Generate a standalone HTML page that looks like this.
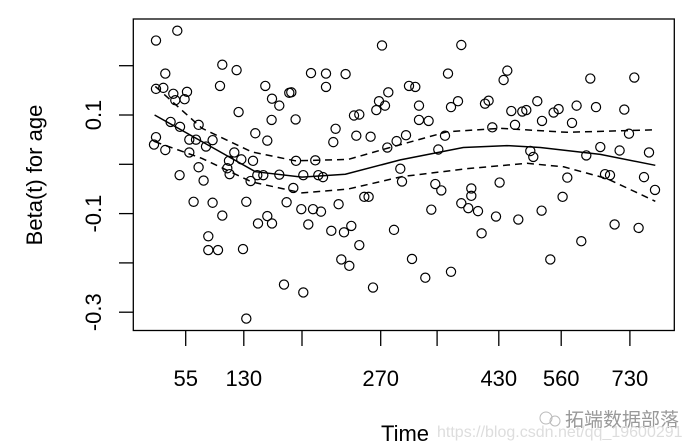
<!DOCTYPE html>
<html><head><meta charset="utf-8"><style>
html,body{margin:0;padding:0;background:#fff;}
svg{display:block;font-family:"Liberation Sans","Noto Sans CJK SC",sans-serif;}
</style></head><body>
<svg id="chart" width="685" height="447" viewBox="0 0 685 447" xmlns="http://www.w3.org/2000/svg">
<rect x="0" y="0" width="685" height="447" fill="#fff"/>
<g id="pts"></g>
<g id="lines"></g>
<g id="axes"></g>
<rect x="133.3" y="19" width="541" height="311.5" fill="none" stroke="#000" stroke-width="1.3"/>
<text transform="translate(42,175) rotate(-90)" text-anchor="middle" font-size="22">Beta(t) for age</text>
<text x="405" y="441" text-anchor="middle" font-size="22">Time</text>
<g fill="#bbb">
<circle cx="546" cy="418" r="6" fill="none" stroke="#bbb"/><circle cx="555" cy="421" r="5" fill="none" stroke="#bbb"/>
<text x="565" y="426" font-size="19" fill="#999">拓端数据部落</text>
<text x="437" y="437" font-size="16" fill="#ddd">https://blog.csdn.net/qq_19600291</text>
</g>
</svg>
<script>
const xs = [22.7,44,32,22.7,30,40,53.7,42,51.3,89,103.3,86.7,132,138.7,146,156,158,105.3,138.3,162.3,177.7,192.7,212.3,192.7,248.7,255,245.7,251.7,243,220.7,226,202.3,200,223,237.3,254,263.3,37.3,46.7,65.3,22.7,20.7,32,56,62.7,79.3,72.7,56,122,134,101,108,119.7,95.7,94,96.3,65.3,46.3,70.3,117.3,124,130,146,162.7,182,170,185,189.7,160,267,268.7,60.3,79.3,113,153.3,89,134,124.7,138.7,168,179.7,187.7,175,205.3,198,210.7,218,231,235.3,260.7,75,75,84.7,109.7,226,208,216,150.7,170,239.7,113,
328,314.7,374,370.3,275.7,282,457,501,285.7,317.7,324.7,351.7,355.3,378,389,393,404,420.3,425.3,443.3,462.7,491,285.7,295.3,359,381.7,408.7,438.7,272.7,311.7,495.7,305,397,400,453,467,486.3,515.7,302,308,338,338,366.3,434,471.7,476.7,510.7,521.7,429.3,298,328,335,344.7,362.7,385,408.3,348.3,448,481.3,505.3,278.7,292,317.7,417];
const ys = [0.251,0.271,0.184,0.153,0.155,0.143,0.147,0.130,0.132,0.202,0.191,0.159,0.159,0.133,0.119,0.145,0.146,0.106,0.090,0.091,0.185,0.184,0.183,0.157,0.241,0.146,0.128,0.119,0.110,0.099,0.101,0.072,0.045,0.058,0.056,0.034,0.047,0.086,0.076,0.080,0.055,0.040,0.029,0.050,0.050,0.049,0.036,0.024,0.063,0.048,0.024,0.010,0.007,0.007,-0.008,-0.020,-0.006,-0.022,-0.033,-0.034,-0.022,-0.022,-0.021,0.007,0.008,-0.022,-0.022,-0.026,-0.048,-0.009,-0.035,-0.076,-0.078,-0.076,-0.077,-0.104,-0.105,-0.120,-0.120,-0.091,-0.091,-0.096,-0.122,-0.081,-0.135,-0.138,-0.125,-0.066,-0.066,-0.133,-0.146,-0.174,-0.174,-0.172,-0.164,-0.193,-0.206,-0.244,-0.260,-0.250,-0.313,
0.242,0.184,0.190,0.171,0.159,0.157,0.174,0.176,0.119,0.116,0.128,0.123,0.129,0.108,0.107,0.110,0.128,0.105,0.112,0.119,0.116,0.111,0.090,0.088,0.075,0.080,0.088,0.084,0.059,0.058,0.062,0.030,0.027,0.015,0.018,0.035,0.028,0.024,-0.040,-0.053,-0.049,-0.064,-0.037,-0.027,-0.020,-0.022,-0.026,-0.052,-0.066,-0.092,-0.079,-0.089,-0.095,-0.106,-0.112,-0.094,-0.140,-0.156,-0.122,-0.129,-0.192,-0.230,-0.218,-0.193];
const fitX = [21.3,68.7,122,168.7,212,267,330,373.7,407,467,522];
const fitY = [0.100,0.046,-0.015,-0.026,-0.020,0.009,0.034,0.038,0.034,0.020,-0.002];
const upX = [22,68.7,118.7,162,215,255,313.7,367,433.7,522];
const upY = [0.158,0.073,0.025,0.007,0.010,0.033,0.066,0.073,0.065,0.070];
const loX = [21.3,68.7,118.7,168.7,215,268.7,333.7,393.7,430.3,473.7,522];
const loY = [0.046,0.012,-0.036,-0.058,-0.050,-0.025,-0.009,0.002,-0.005,-0.029,-0.075];
const xTicks = [52.4,110.5,168.7,247.4,303.8,365.5,427.9,496.6];
const xTickLabels = ['55','130','','270','','430','560','730'];
const yTicks = [0.2,0.1,0,-0.1,-0.2,-0.3];
const yTickLabels = ['','0.1','','-0.1','','-0.3'];

const NS='http://www.w3.org/2000/svg';
function sx(u){return 133.3+u;}
function sy(v){return 164.3-v*493;}
function mk(tag,attrs,parent){const e=document.createElementNS(NS,tag);for(const k in attrs)e.setAttribute(k,attrs[k]);parent.appendChild(e);return e;}
const pts=document.getElementById('pts');
xs.forEach((x,i)=>{
  const c=mk('circle',{cx:sx(x),cy:sy(ys[i]),r:4.6,fill:'none',stroke:'#000','stroke-width':1.2},pts);
  
  
});
const lines=document.getElementById('lines');
function path(X,Y,dash,name){
  const d=X.map((x,i)=>(i?'L':'M')+sx(x).toFixed(1)+','+sy(Y[i]).toFixed(1)).join(' ');
  const p=mk('path',{d:d,fill:'none',stroke:'#000','stroke-width':1.5},lines);
  if(dash)p.setAttribute('stroke-dasharray','7,5');
  
  
}
path(fitX,fitY,false,'beta-fit-line');
path(upX,upY,true,'upper-ci-line');
path(loX,loY,true,'lower-ci-line');
const ax=document.getElementById('axes');
xTicks.forEach((t,i)=>{
  const l=mk('line',{x1:sx(t),x2:sx(t),y1:330.5,y2:346,stroke:'#000','stroke-width':1.3},ax);
  
  
  if(xTickLabels[i]){
    const tx=mk('text',{x:sx(t),y:386,'text-anchor':'middle','font-size':22},ax);
    tx.textContent=xTickLabels[i];
    
    
  }
});
yTicks.forEach((t,i)=>{
  const l=mk('line',{x1:119,x2:133.3,y1:sy(t),y2:sy(t),stroke:'#000','stroke-width':1.3},ax);
  
  
  if(yTickLabels[i]){
    const tx=mk('text',{transform:'translate(101,'+sy(t)+') rotate(-90)','text-anchor':'middle','font-size':22},ax);
    tx.textContent=yTickLabels[i];
    
    
  }
});
</script>
</body></html>
